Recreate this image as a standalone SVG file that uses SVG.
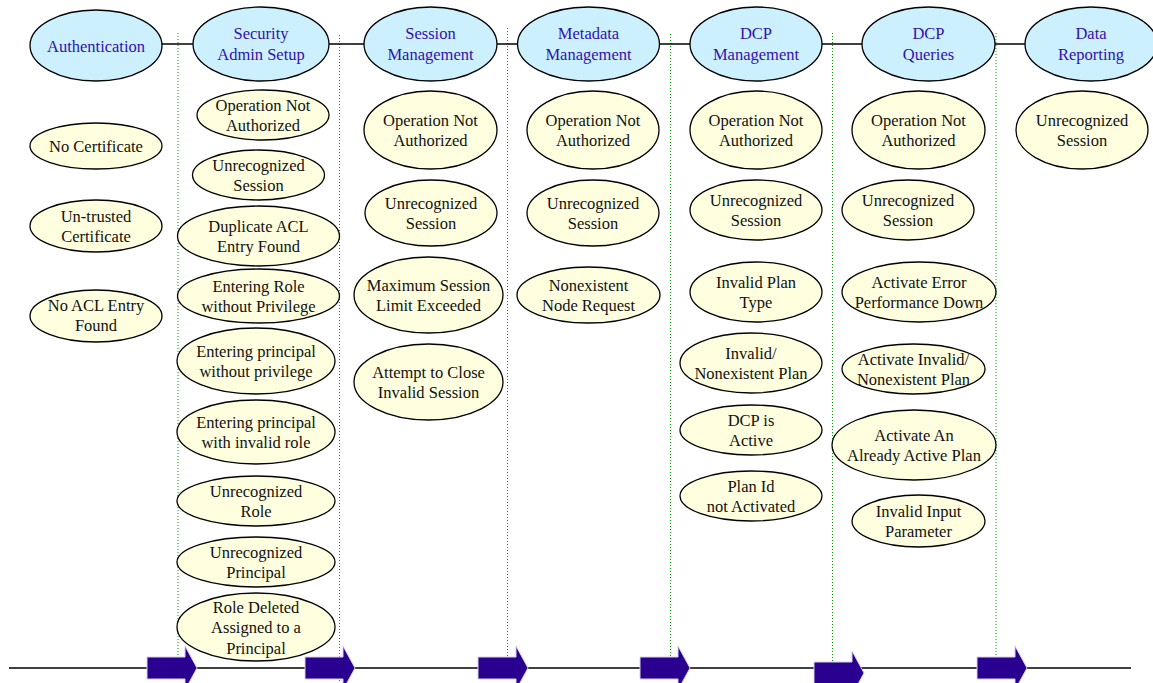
<svg xmlns="http://www.w3.org/2000/svg" width="1153" height="683" viewBox="0 0 1153 683">
  <style>
    .stage ellipse { fill: #ccf0fe; stroke: #000; stroke-width: 1.3; }
    .stage text { fill: #3311b0; }
    .err ellipse { fill: #ffffe0; stroke: #000; stroke-width: 1.3; }
    .err text { fill: #111; }
    text { font-family: "Liberation Serif", "Times New Roman", serif; font-size: 16.5px; text-anchor: middle; }
    .link { stroke: #000; stroke-width: 1.5; fill: none; }
    .lane { stroke: #00a000; stroke-width: 1; stroke-dasharray: 1 2; fill: none; }
    .flow { fill: #2a0090; stroke: #d6cfe6; stroke-width: 1; }
  </style>
  <defs>
    <path id="step" d="M0,-11 H38 V-22 L50,0 L38,22 V11 H0 Z"/>
  </defs>

  <!-- lane separators -->
  <g id="lanes">
    <line class="lane" x1="178" y1="33" x2="178" y2="658"/>
    <line class="lane" x1="339.5" y1="35" x2="339.5" y2="683"/>
    <line class="lane" x1="507.5" y1="28" x2="507.5" y2="671"/>
    <line class="lane" x1="670.5" y1="34" x2="670.5" y2="657"/>
    <line class="lane" x1="832.5" y1="33" x2="832.5" y2="662"/>
    <line class="lane" x1="996" y1="33" x2="996" y2="657"/>
  </g>

  <!-- connectors between stages and the time line -->
  <g id="connectors">
    <line class="link" x1="162" y1="44" x2="193" y2="44"/>
    <line class="link" x1="329" y1="44" x2="364" y2="44"/>
    <line class="link" x1="497" y1="44" x2="518" y2="44"/>
    <line class="link" x1="659" y1="44" x2="690" y2="44"/>
    <line class="link" x1="822" y1="44" x2="862" y2="44"/>
    <line class="link" x1="995" y1="44" x2="1026" y2="44"/>
    <line class="link" x1="9" y1="668" x2="1131" y2="668"/>
    <use class="flow" href="#step" x="147" y="668"/>
    <use class="flow" href="#step" x="305" y="668"/>
    <use class="flow" href="#step" x="478" y="668"/>
    <use class="flow" href="#step" x="640" y="668"/>
    <use class="flow" href="#step" x="814" y="673"/>
    <use class="flow" href="#step" x="977" y="668"/>
  </g>

  <!-- stages -->
  <g id="authentication" class="stage">
    <ellipse cx="96" cy="45.5" rx="66" ry="35.5"/>
    <text x="96" y="52">Authentication</text>
  </g>
  <g id="security-admin-setup" class="stage">
    <ellipse cx="261" cy="44" rx="68" ry="37"/>
    <text x="261" y="39">Security</text>
    <text x="261" y="60">Admin Setup</text>
  </g>
  <g id="session-management" class="stage">
    <ellipse cx="430.5" cy="44" rx="66.5" ry="37"/>
    <text x="430.5" y="39">Session</text>
    <text x="430.5" y="60">Management</text>
  </g>
  <g id="metadata-management" class="stage">
    <ellipse cx="588.5" cy="44" rx="71" ry="37"/>
    <text x="588.5" y="39">Metadata</text>
    <text x="588.5" y="60">Management</text>
  </g>
  <g id="dcp-management" class="stage">
    <ellipse cx="756" cy="44" rx="66" ry="37"/>
    <text x="756" y="39">DCP</text>
    <text x="756" y="60">Management</text>
  </g>
  <g id="dcp-queries" class="stage">
    <ellipse cx="928.5" cy="44" rx="66.5" ry="37"/>
    <text x="928.5" y="39">DCP</text>
    <text x="928.5" y="60">Queries</text>
  </g>
  <g id="data-reporting" class="stage">
    <ellipse cx="1091" cy="44" rx="66" ry="37"/>
    <text x="1091" y="39">Data</text>
    <text x="1091" y="60">Reporting</text>
  </g>

  <!-- Authentication errors -->
  <g id="auth-no-certificate" class="err">
    <ellipse cx="96" cy="146" rx="66" ry="23"/>
    <text x="96" y="152">No Certificate</text>
  </g>
  <g id="auth-untrusted-certificate" class="err">
    <ellipse cx="96" cy="226" rx="66" ry="26"/>
    <text x="96" y="222">Un-trusted</text>
    <text x="96" y="242">Certificate</text>
  </g>
  <g id="auth-no-acl-entry" class="err">
    <ellipse cx="96" cy="316" rx="66" ry="26"/>
    <text x="96" y="311">No ACL Entry</text>
    <text x="96" y="331">Found</text>
  </g>

  <!-- Security Admin Setup errors -->
  <g id="sec-operation-not-authorized" class="err">
    <ellipse cx="263" cy="115" rx="66" ry="25"/>
    <text x="263" y="111">Operation Not</text>
    <text x="263" y="131">Authorized</text>
  </g>
  <g id="sec-unrecognized-session" class="err">
    <ellipse cx="258.5" cy="175" rx="66" ry="25"/>
    <text x="258.5" y="171">Unrecognized</text>
    <text x="258.5" y="191">Session</text>
  </g>
  <g id="sec-duplicate-acl" class="err">
    <ellipse cx="258.5" cy="236" rx="81" ry="30"/>
    <text x="258.5" y="232">Duplicate ACL</text>
    <text x="258.5" y="252">Entry Found</text>
  </g>
  <g id="sec-role-without-privilege" class="err">
    <ellipse cx="258.5" cy="296" rx="81" ry="27"/>
    <text x="258.5" y="292">Entering Role</text>
    <text x="258.5" y="312">without Privilege</text>
  </g>
  <g id="sec-principal-without-privilege" class="err">
    <ellipse cx="256" cy="361" rx="79" ry="33"/>
    <text x="256" y="357">Entering principal</text>
    <text x="256" y="377">without privilege</text>
  </g>
  <g id="sec-principal-invalid-role" class="err">
    <ellipse cx="256" cy="432" rx="79" ry="32"/>
    <text x="256" y="428">Entering principal</text>
    <text x="256" y="448">with invalid role</text>
  </g>
  <g id="sec-unrecognized-role" class="err">
    <ellipse cx="256" cy="501" rx="79" ry="25"/>
    <text x="256" y="497">Unrecognized</text>
    <text x="256" y="517">Role</text>
  </g>
  <g id="sec-unrecognized-principal" class="err">
    <ellipse cx="256" cy="562" rx="79" ry="25"/>
    <text x="256" y="558">Unrecognized</text>
    <text x="256" y="578">Principal</text>
  </g>
  <g id="sec-role-deleted" class="err">
    <ellipse cx="256" cy="627" rx="79" ry="34"/>
    <text x="256" y="613">Role Deleted</text>
    <text x="256" y="633">Assigned to a</text>
    <text x="256" y="654">Principal</text>
  </g>

  <!-- Session Management errors -->
  <g id="ses-operation-not-authorized" class="err">
    <ellipse cx="430.5" cy="130" rx="66.5" ry="39"/>
    <text x="430.5" y="126">Operation Not</text>
    <text x="430.5" y="146">Authorized</text>
  </g>
  <g id="ses-unrecognized-session" class="err">
    <ellipse cx="431" cy="213" rx="66" ry="33"/>
    <text x="431" y="209">Unrecognized</text>
    <text x="431" y="229">Session</text>
  </g>
  <g id="ses-max-session-limit" class="err">
    <ellipse cx="428.5" cy="295" rx="74.5" ry="38"/>
    <text x="428.5" y="291">Maximum Session</text>
    <text x="428.5" y="311">Limit Exceeded</text>
  </g>
  <g id="ses-close-invalid" class="err">
    <ellipse cx="428.5" cy="382" rx="74.5" ry="38"/>
    <text x="428.5" y="378">Attempt to Close</text>
    <text x="428.5" y="398">Invalid Session</text>
  </g>

  <!-- Metadata Management errors -->
  <g id="meta-operation-not-authorized" class="err">
    <ellipse cx="593" cy="130" rx="66" ry="39"/>
    <text x="593" y="126">Operation Not</text>
    <text x="593" y="146">Authorized</text>
  </g>
  <g id="meta-unrecognized-session" class="err">
    <ellipse cx="593" cy="213" rx="66" ry="33"/>
    <text x="593" y="209">Unrecognized</text>
    <text x="593" y="229">Session</text>
  </g>
  <g id="meta-nonexistent-node" class="err">
    <ellipse cx="588.5" cy="295" rx="71.5" ry="28"/>
    <text x="588.5" y="291">Nonexistent</text>
    <text x="588.5" y="311">Node Request</text>
  </g>

  <!-- DCP Management errors -->
  <g id="dcpm-operation-not-authorized" class="err">
    <ellipse cx="756" cy="130" rx="66" ry="39"/>
    <text x="756" y="126">Operation Not</text>
    <text x="756" y="146">Authorized</text>
  </g>
  <g id="dcpm-unrecognized-session" class="err">
    <ellipse cx="756" cy="210" rx="66" ry="30"/>
    <text x="756" y="206">Unrecognized</text>
    <text x="756" y="226">Session</text>
  </g>
  <g id="dcpm-invalid-plan-type" class="err">
    <ellipse cx="756" cy="292" rx="66" ry="30"/>
    <text x="756" y="288">Invalid Plan</text>
    <text x="756" y="308">Type</text>
  </g>
  <g id="dcpm-invalid-nonexistent-plan" class="err">
    <ellipse cx="751" cy="363" rx="71" ry="30"/>
    <text x="751" y="359">Invalid/</text>
    <text x="751" y="379">Nonexistent Plan</text>
  </g>
  <g id="dcpm-dcp-active" class="err">
    <ellipse cx="751" cy="430" rx="71" ry="25"/>
    <text x="751" y="426">DCP is</text>
    <text x="751" y="446">Active</text>
  </g>
  <g id="dcpm-plan-not-activated" class="err">
    <ellipse cx="751" cy="496" rx="71" ry="25"/>
    <text x="751" y="492">Plan Id</text>
    <text x="751" y="512">not Activated</text>
  </g>

  <!-- DCP Queries errors -->
  <g id="dcpq-operation-not-authorized" class="err">
    <ellipse cx="918.5" cy="130" rx="66.5" ry="39"/>
    <text x="918.5" y="126">Operation Not</text>
    <text x="918.5" y="146">Authorized</text>
  </g>
  <g id="dcpq-unrecognized-session" class="err">
    <ellipse cx="908" cy="210" rx="66" ry="30"/>
    <text x="908" y="206">Unrecognized</text>
    <text x="908" y="226">Session</text>
  </g>
  <g id="dcpq-performance-down" class="err">
    <ellipse cx="919" cy="292" rx="77" ry="30"/>
    <text x="919" y="288">Activate Error</text>
    <text x="919" y="308">Performance Down</text>
  </g>
  <g id="dcpq-invalid-nonexistent-plan" class="err">
    <ellipse cx="913.5" cy="369" rx="71.5" ry="25"/>
    <text x="913.5" y="365">Activate Invalid/</text>
    <text x="913.5" y="385">Nonexistent Plan</text>
  </g>
  <g id="dcpq-already-active-plan" class="err">
    <ellipse cx="914" cy="445" rx="82" ry="35"/>
    <text x="914" y="441">Activate An</text>
    <text x="914" y="461">Already Active Plan</text>
  </g>
  <g id="dcpq-invalid-input" class="err">
    <ellipse cx="918.5" cy="521" rx="66.5" ry="26"/>
    <text x="918.5" y="517">Invalid Input</text>
    <text x="918.5" y="537">Parameter</text>
  </g>

  <!-- Data Reporting errors -->
  <g id="rep-unrecognized-session" class="err">
    <ellipse cx="1082" cy="130" rx="66" ry="39"/>
    <text x="1082" y="126">Unrecognized</text>
    <text x="1082" y="146">Session</text>
  </g>
</svg>
